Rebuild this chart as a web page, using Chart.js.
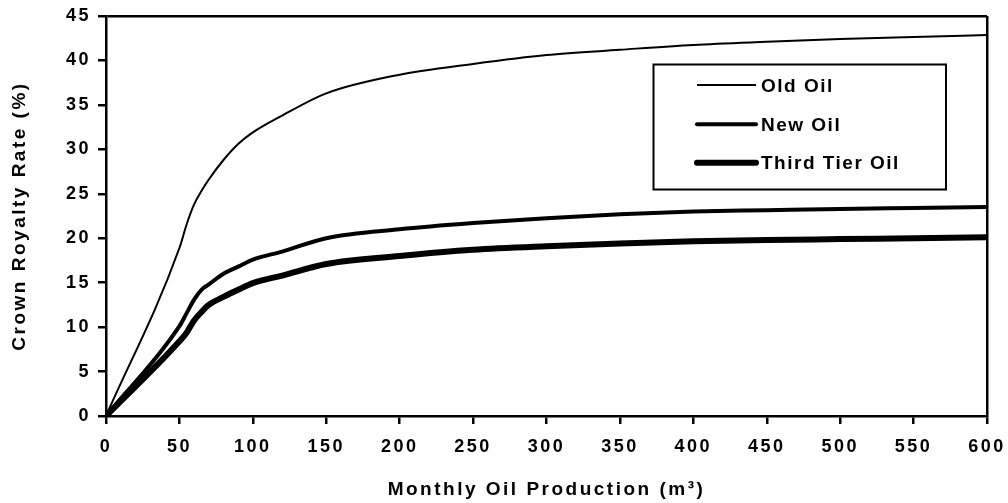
<!DOCTYPE html>
<html>
<head>
<meta charset="utf-8">
<script src="https://cdn.jsdelivr.net/npm/chart.js@4"></script>
<style>
  html, body { margin: 0; padding: 0; background: #fff; }
  #wrap { width: 1008px; height: 503px; }
</style>
</head>
<body>
<div id="wrap"><canvas id="c" width="1008" height="503"></canvas></div>
<script>
const production = [0, 50, 55, 60, 65, 70, 80, 90, 100, 120, 150, 200, 250, 300, 350, 400, 450, 500, 550, 600];
const oldOil   = [0, 18.9, 21.6, 23.8, 25.3, 26.6, 28.8, 30.6, 31.9, 33.8, 36.3, 38.4, 39.6, 40.6, 41.2, 41.75, 42.1, 42.4, 42.65, 42.85];
const newOil   = [0, 10.1, 11.6, 13.1, 14.2, 14.8, 16.0, 16.8, 17.6, 18.5, 20.0, 21.0, 21.7, 22.25, 22.7, 23.0, 23.15, 23.3, 23.4, 23.5];
const thirdTier= [0, 8.4, 9.4, 10.75, 11.7, 12.5, 13.4, 14.2, 14.95, 15.8, 17.1, 18.0, 18.7, 19.1, 19.4, 19.65, 19.8, 19.9, 20.0, 20.1];
const seriesNames = ['Old Oil', 'New Oil', 'Third Tier Oil'];
const xTitle = 'Monthly Oil Production (m\u00B3)';
const yTitle = 'Crown Royalty Rate (%)';

const toPoints = ys => production.map((x, i) => ({x: x, y: ys[i]}));

const SPACING = '2.5px';
const spacing = {
  id: 'spacing',
  beforeUpdate(chart) { chart.ctx.letterSpacing = SPACING; },
  beforeLayout(chart) { chart.ctx.letterSpacing = SPACING; },
  beforeDraw(chart) { chart.ctx.letterSpacing = SPACING; }
};

const legendBox = {
  id: 'legendBox',
  afterDraw(chart, args, o) {
    const ctx = chart.ctx;
    ctx.save();
    ctx.letterSpacing = '1.5px';
    ctx.strokeStyle = '#000';
    ctx.lineWidth = 2;
    ctx.strokeRect(o.x, o.y, o.w, o.h);
    ctx.font = 'bold 19px "Liberation Sans", Arial, sans-serif';
    ctx.fillStyle = '#000';
    ctx.textBaseline = 'middle';
    ctx.textAlign = 'left';
    chart.data.datasets.forEach((ds, i) => {
      const y = o.rows[i];
      ctx.beginPath();
      ctx.lineWidth = ds.borderWidth;
      ctx.lineCap = ds.borderWidth > 2 ? 'round' : 'butt';
      ctx.moveTo(o.lx1, y);
      ctx.lineTo(o.lx2, y);
      ctx.stroke();
      ctx.fillText(ds.label, o.tx, y + 1.5);
    });
    ctx.restore();
  }
};

const font = {family: '"Liberation Sans", Arial, sans-serif', weight: 'bold'};

new Chart(document.getElementById('c'), {
  type: 'line',
  data: {
    datasets: [
      {label: seriesNames[0], data: toPoints(oldOil), borderColor: '#000', borderWidth: 2, pointRadius: 0, cubicInterpolationMode: 'monotone', fill: false},
      {label: seriesNames[1], data: toPoints(newOil), borderColor: '#000', borderWidth: 4, pointRadius: 0, cubicInterpolationMode: 'monotone', fill: false},
      {label: seriesNames[2], data: toPoints(thirdTier), borderColor: '#000', borderWidth: 6, pointRadius: 0, cubicInterpolationMode: 'monotone', fill: false}
    ]
  },
  options: {
    responsive: false,
    animation: false,
    devicePixelRatio: 1,
    layout: {padding: {top: 16, right: 21, left: 0, bottom: 0}},
    plugins: {
      legend: {display: false},
      tooltip: {enabled: false},
      legendBox: {x: 653.5, y: 64.5, w: 292.5, h: 125, lx1: 697, lx2: 756, tx: 761, rows: [85, 124.3, 162.7]}
    },
    scales: {
      x: {
        type: 'linear', min: 0, max: 600,
        afterFit(s) { s.height = 87; s.paddingLeft = 0; s.paddingRight = 0; },
        ticks: {stepSize: 50, autoSkip: false, maxRotation: 0, color: '#000', padding: 12, font: {...font, size: 18}},
        grid: {
          color: c => (c.tick && c.tick.value === 600) ? '#000' : 'rgba(0,0,0,0)',
          lineWidth: 2.5, tickColor: '#000', tickWidth: 2.5, tickLength: 8
        },
        border: {display: true, color: '#000', width: 2.5},
        title: {display: true, text: xTitle, color: '#000', font: {...font, size: 19}, padding: {top: 0, bottom: 2}}
      },
      y: {
        min: 0, max: 45,
        afterFit(s) { s.width = 106; s.paddingTop = 0; s.paddingBottom = 0; },
        ticks: {stepSize: 5, color: '#000', padding: 7, font: {...font, size: 18}},
        grid: {
          color: c => (c.tick && c.tick.value === 45) ? '#000' : 'rgba(0,0,0,0)',
          lineWidth: 2.5, tickColor: '#000', tickWidth: 2.5, tickLength: 8
        },
        border: {display: true, color: '#000', width: 2.5},
        title: {display: true, text: yTitle, color: '#000', font: {...font, size: 19}, padding: {top: 8, bottom: 0}}
      }
    }
  },
  plugins: [spacing, legendBox]
});
</script>
</body>
</html>
